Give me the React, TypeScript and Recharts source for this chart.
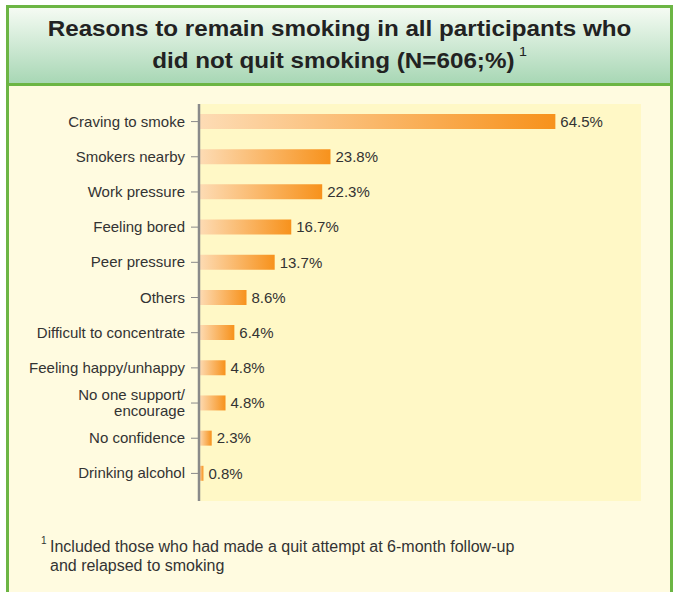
import { BarChart, Bar, XAxis, YAxis, CartesianGrid, LabelList } from "recharts";

const reasons = [
  "Craving to smoke",
  "Smokers nearby",
  "Work pressure",
  "Feeling bored",
  "Peer pressure",
  "Others",
  "Difficult to concentrate",
  "Feeling happy/unhappy",
  "No one support/\nencourage",
  "No confidence",
  "Drinking alcohol",
];
const percents = [64.5, 23.8, 22.3, 16.7, 13.7, 8.6, 6.4, 4.8, 4.8, 2.3, 0.8];

const data = reasons.map((name, i) => ({ name, value: percents[i] }));

const FONT = '"Liberation Sans", Arial, sans-serif';

function ReasonTick(props: any) {
  const { x, y, payload } = props;
  const lines = String(payload.value).split("\n");
  const lh = 16;
  const start = -((lines.length - 1) * lh) / 2;
  return (
    <text x={x} y={y} textAnchor="end" fill="#333" fontSize={15} fontFamily={FONT}>
      {lines.map((l, i) => (
        <tspan key={i} x={x} dy={i === 0 ? start + 5 : lh}>
          {l}
        </tspan>
      ))}
    </text>
  );
}

export default function App() {
  return (
    <div
      style={{
        position: "absolute",
        left: 0,
        top: 0,
        width: 677,
        height: 592,
        background: "#fff",
        overflow: "hidden",
        fontFamily: FONT,
      }}
    >
      <div
        style={{
          position: "absolute",
          left: 6,
          top: 5,
          width: 667,
          height: 620,
          boxSizing: "border-box",
          border: "3px solid #6cb544",
          background: "#fffbe0",
        }}
      >
        <div
          style={{
            height: 78,
            borderBottom: "3px solid #6cb544",
            background: "linear-gradient(#f5fbf3, #a8d7b5)",
            boxSizing: "border-box",
            paddingTop: 5,
          }}
        >
          <div
            style={{
              textAlign: "center",
              color: "#222",
              fontWeight: "bold",
              fontSize: 22,
              lineHeight: "32px",
              transform: "scaleX(1.1)",
            }}
          >
            Reasons to remain smoking in all participants who
            <br />
            did not quit smoking (N=606;%)
            <span
              style={{
                fontWeight: "normal",
                fontSize: 13,
                position: "relative",
                top: -12,
                marginLeft: 4,
              }}
            >
              1
            </span>
          </div>
        </div>
      </div>

      <div style={{ position: "absolute", left: 0, top: 90 }}>
        <BarChart
          width={677}
          height={420}
          data={data}
          layout="vertical"
          margin={{ top: 14, right: 36, bottom: 9, left: 0 }}
        >
          <defs>
            <linearGradient id="barGrad" x1="0" y1="0" x2="1" y2="0">
              <stop offset="0%" stopColor="#fddcb5" />
              <stop offset="100%" stopColor="#f7921c" />
            </linearGradient>
          </defs>
          <CartesianGrid fill="#fff8c6" stroke="none" horizontal={false} vertical={false} />
          <XAxis type="number" domain={[0, 80]} hide />
          <YAxis
            type="category"
            dataKey="name"
            width={199}
            interval={0}
            tickSize={8}
            tickMargin={6}
            padding={{ top: 0, bottom: 10 }}
            axisLine={{ stroke: "#8a8a8a", strokeWidth: 2.5 }}
            tickLine={{ stroke: "#8a8a8a" }}
            tick={<ReasonTick />}
          />
          <Bar dataKey="value" fill="url(#barGrad)" barSize={15} isAnimationActive={false}>
            <LabelList
              dataKey="value"
              position="right"
              offset={5}
              formatter={(v: any) => `${v}%`}
              fill="#333"
              fontSize={15}
              fontFamily={FONT}
            />
          </Bar>
        </BarChart>
      </div>

      <div
        style={{
          position: "absolute",
          left: 50,
          top: 537,
          fontSize: 16,
          lineHeight: "19px",
          color: "#333",
        }}
      >
        <span style={{ position: "absolute", left: -9, top: -1, fontSize: 10, lineHeight: "10px" }}>1</span>
        Included those who had made a quit attempt at 6-month follow-up
        <br />
        and relapsed to smoking
      </div>
    </div>
  );
}
